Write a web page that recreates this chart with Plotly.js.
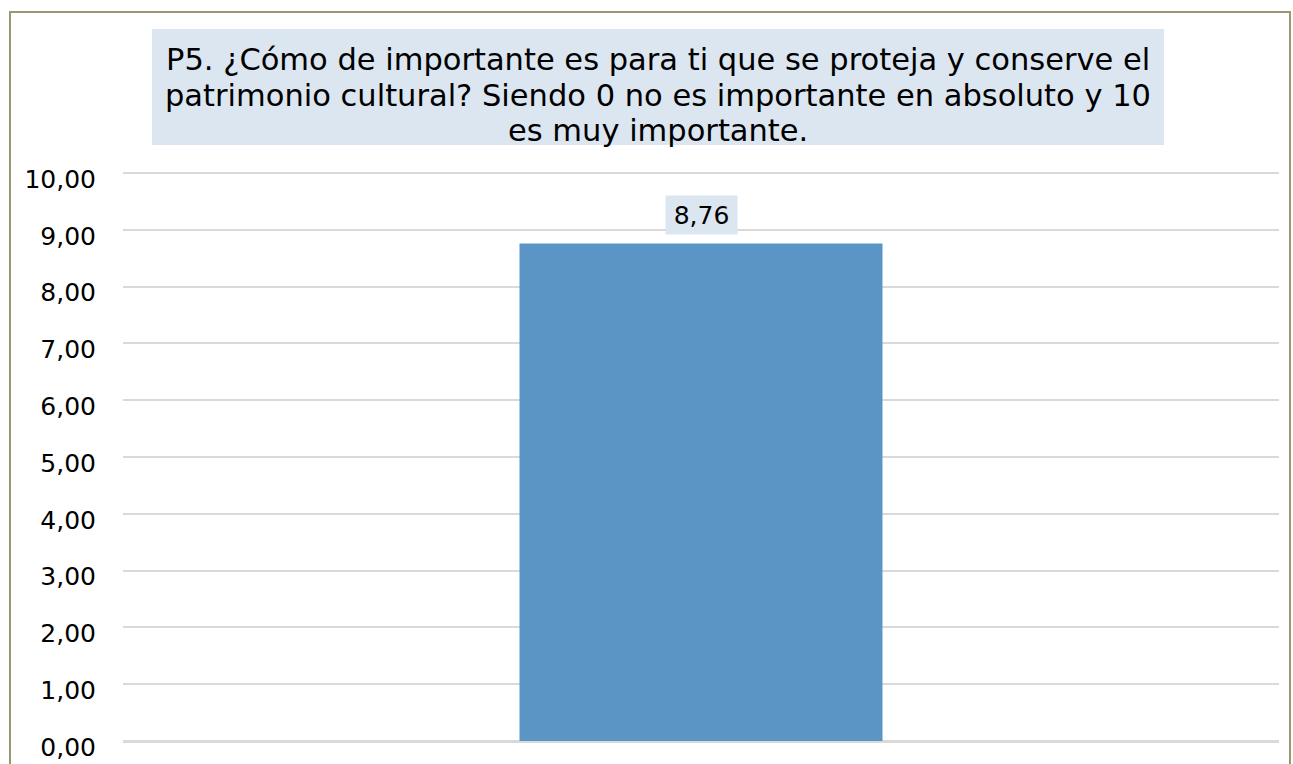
<!DOCTYPE html>
<html>
<head>
<meta charset="utf-8">
<script src="https://cdn.plot.ly/plotly-3.0.1.min.js"></script>
<style>
  html, body { margin: 0; padding: 0; background: #ffffff; }
  #frame { position: absolute; left: 9px; top: 11px; width: 1282px; height: 780px; border: 2px solid #9c9671; box-sizing: border-box; }
  #chart { position: absolute; left: 0; top: 0; width: 1293px; height: 764px; }
</style>
</head>
<body>
<div id="frame"></div>
<div id="chart"></div>
<script>
const categories = ['P5'];
const values = [8.76];
const titleLines = [
  'P5. ¿Cómo de importante es para ti que se proteja y conserve el',
  'patrimonio cultural? Siendo 0 no es importante en absoluto y 10',
  'es muy importante.'
];
const tickVals = [0, 1, 2, 3, 4, 5, 6, 7, 8, 9, 10];
const tickText = tickVals.map(v => v.toFixed(2).replace('.', ','));

const fontFam = 'DejaVu Sans, Verdana, sans-serif';

// pixel helpers for the layout (plot area: top 168px, bottom 741px)
const plotTop = 168, plotBottom = 741, plotLeft = 123, plotRight = 1279;
const unitPx = 56.8;
const yTop = (plotBottom - plotTop) / unitPx;
const py = p => (plotBottom - p) / (plotBottom - plotTop);
const px = p => (p - plotLeft) / (plotRight - plotLeft);

const trace = {
  type: 'bar',
  x: categories,
  y: values,
  marker: { color: '#5b95c6' },
  hoverinfo: 'none'
};

const titleLineCenters = [59, 95, 131];
const titleAnns = titleLines.map((t, i) => ({
  xref: 'paper', yref: 'paper',
  x: px(658), y: py(titleLineCenters[i]),
  xanchor: 'center', yanchor: 'middle',
  text: t,
  showarrow: false,
  font: { family: fontFam, size: 30.5, color: '#000000' }
}));

const layout = {
  width: 1293,
  height: 764,
  margin: { l: plotLeft, r: 1293 - plotRight, t: plotTop, b: 764 - plotBottom, pad: 0 },
  paper_bgcolor: 'rgba(0,0,0,0)',
  plot_bgcolor: 'rgba(0,0,0,0)',
  showlegend: false,
  bargap: 0.686,
  font: { family: fontFam, color: '#000000', size: 25 },
  xaxis: {
    type: 'category',
    showticklabels: false,
    showgrid: false,
    zeroline: false,
    showline: false,
    ticks: ''
  },
  yaxis: {
    range: [0, yTop],
    tickvals: tickVals,
    ticktext: tickText,
    tickfont: { family: fontFam, size: 25, color: '#000000' },
    showgrid: true,
    gridcolor: '#d9d9d9',
    gridwidth: 2,
    zeroline: true,
    zerolinecolor: '#d9d9d9',
    zerolinewidth: 3,
    showline: false,
    ticks: '',
    ticklabelstandoff: 26,
    ticklabelshift: 6,
    fixedrange: true
  },
  shapes: [
    {
      type: 'rect', xref: 'paper', yref: 'paper',
      x0: px(152), x1: px(1164), y0: py(145), y1: py(29),
      fillcolor: '#dce6f1', line: { width: 0 }, layer: 'below'
    }
  ],
  annotations: titleAnns.concat([
    {
      xref: 'x', yref: 'y',
      x: categories[0], y: values[0],
      xanchor: 'center', yanchor: 'bottom',
      yshift: 8,
      text: values[0].toFixed(2).replace('.', ','),
      showarrow: false,
      width: 71,
      height: 38,
      borderpad: 0,
      bgcolor: '#dce6f1',
      font: { family: fontFam, size: 25, color: '#000000' }
    }
  ])
};

Plotly.newPlot('chart', [trace], layout, { displayModeBar: false, staticPlot: true });
</script>
</body>
</html>
